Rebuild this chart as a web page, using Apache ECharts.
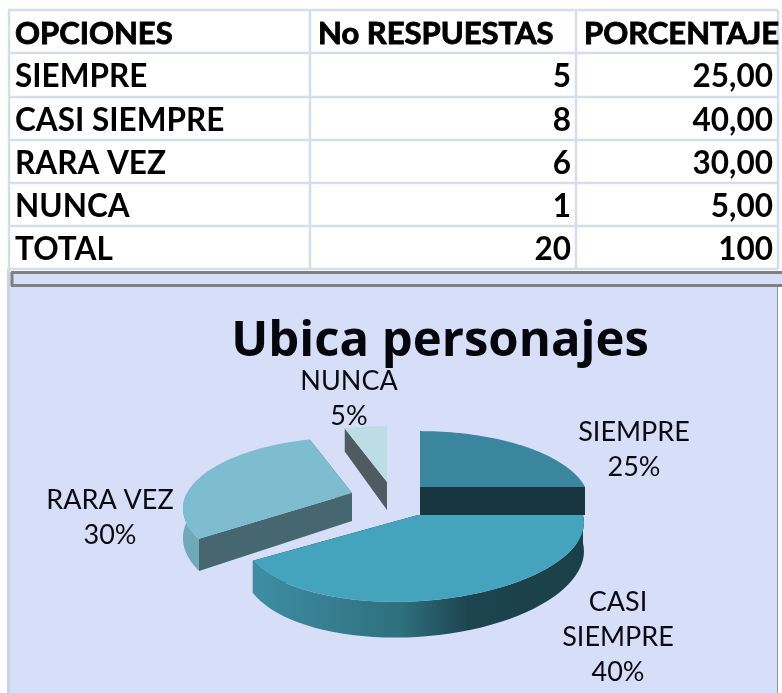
<!DOCTYPE html>
<html>
<head>
<meta charset="utf-8">
<style>
  html, body { margin: 0; padding: 0; background: #fff; }
  #main { width: 782px; height: 693px; }
</style>
<script src="https://cdn.jsdelivr.net/npm/echarts@6/dist/echarts.min.js"></script>
</head>
<body>
<div id="main"></div>
<script>
var tableHeader = ['OPCIONES', 'No RESPUESTAS', 'PORCENTAJE'];
var categories = ['SIEMPRE', 'CASI SIEMPRE', 'RARA VEZ', 'NUNCA'];
var responses = [5, 8, 6, 1];
var percents = ['25,00', '40,00', '30,00', '5,00'];
var totalRow = ['TOTAL', '20', '100'];
var pieLabels = [['SIEMPRE', '25%'], ['CASI', 'SIEMPRE', '40%'], ['RARA VEZ', '30%'], ['NUNCA', '5%']];
var chartTitle = 'Ubica personajes';

// colors per slice
var topColors = ['#3a869e', '#44a3bd', '#7ebccf', '#bcdde4'];
var cutColors = ['#17363f', '#17363f', '#46676f', '#4f5b60'];

// where each exploded slice's tip sits
var tips = [[420, 487], [418, 515], [352, 493], [387, 482]];
var sliceSkew = [0, -18, 0, 0];
var sliceZ = [3, 4, 2, 1];
var radiusX = 165, radiusY = 68, persp = 0.217, depth = 28;

var font = 'Lato, sans-serif';
var rowLines = [10, 53, 97, 140, 183, 226, 269];
var colLines = [9, 310, 576, 778];

function project(i, angle, r, z) {
  var tip = tips[i];
  var u = Math.cos(angle) * r, v = Math.sin(angle) * r;
  var s = 1 / (1 - persp * v);
  return [tip[0] + (radiusX * u + sliceSkew[i] * v) * s, tip[1] + radiusY * v * s + depth * z * s];
}

function arcPoints(i, a0, a1, z) {
  var pts = [], n = 48;
  for (var k = 0; k <= n; k++) {
    pts.push(project(i, a0 + (a1 - a0) * k / n, 1, z));
  }
  return pts;
}

var total = responses.reduce(function (a, b) { return a + b; }, 0);
var startAngles = [];
responses.reduce(function (acc, val) {
  startAngles.push(acc);
  return acc + val / total * Math.PI * 2;
}, -Math.PI / 2);

function renderSlice(params, api) {
  var i = params.dataIndex;
  var a0 = startAngles[i];
  var a1 = a0 + api.value(0) / total * Math.PI * 2;
  var z = sliceZ[i] * 10;
  var children = [];

  // straight cut walls
  [a0, a1].forEach(function (a) {
    children.push({
      type: 'polygon',
      z2: z,
      shape: { points: [project(i, a, 0, 0), project(i, a, 1, 0), project(i, a, 1, 1), project(i, a, 0, 1)] },
      style: { fill: cutColors[i] }
    });
  });

  // outer wall, only the part that faces the viewer
  var w0 = Math.max(a0, 0), w1 = Math.min(a1, Math.PI);
  if (w1 > w0) {
    children.push({
      type: 'polygon',
      z2: z + 1,
      shape: { points: arcPoints(i, w0, w1, 0).concat(arcPoints(i, w0, w1, 1).reverse()) },
      style: {
        fill: {
          type: 'linear', x: 0, y: 0, x2: 1, y2: 0,
          colorStops: i === 1
            ? [{ offset: 0, color: '#3e8ea3' }, { offset: 0.45, color: '#2f6f7e' }, { offset: 0.65, color: '#1c454f' }, { offset: 1, color: '#1a3f48' }]
            : [{ offset: 0, color: '#6fa9ba' }, { offset: 1, color: '#6fa9ba' }]
        }
      }
    });
  }

  children.push({
    type: 'polygon',
    z2: z + 2,
    shape: { points: [project(i, 0, 0, 0)].concat(arcPoints(i, a0, a1, 0)) },
    style: { fill: topColors[i] }
  });
  return { type: 'group', children: children };
}

// table and frame
var graphics = [
  { type: 'rect', z: 0, shape: { x: 7, y: 269, width: 3, height: 424 }, style: { fill: '#c8d4e6' } },
  { type: 'rect', z: 0, shape: { x: 10, y: 272, width: 767, height: 421 }, style: { fill: '#d6dff7' } },
  { type: 'rect', z: 0, shape: { x: 777, y: 272, width: 5, height: 14 }, style: { fill: '#d6dff7' } },
  { type: 'line', z: 1, shape: { x1: 777.5, y1: 286, x2: 777.5, y2: 693 }, style: { stroke: '#8a8f9a', lineWidth: 1 } },
  { type: 'line', z: 1, shape: { x1: 11, y1: 272.5, x2: 782, y2: 272.5 }, style: { stroke: '#808080', lineWidth: 3 } },
  { type: 'line', z: 1, shape: { x1: 11, y1: 285.5, x2: 782, y2: 285.5 }, style: { stroke: '#808080', lineWidth: 3 } },
  { type: 'line', z: 1, shape: { x1: 12, y1: 272, x2: 12, y2: 286 }, style: { stroke: '#808080', lineWidth: 3 } }
];
rowLines.forEach(function (y) {
  graphics.push({ type: 'line', z: 1, shape: { x1: 8, y1: y, x2: 778, y2: y }, style: { stroke: '#d5deea', lineWidth: 2.5 } });
});
colLines.forEach(function (x) {
  graphics.push({ type: 'line', z: 1, shape: { x1: x, y1: 10, x2: x, y2: 269 }, style: { stroke: '#d5deea', lineWidth: 2.5 } });
});

function addCell(text, x, row, align, header) {
  graphics.push({
    type: 'text', z: 5,
    style: {
      x: x, y: (rowLines[row] + rowLines[row + 1]) / 2 + 2,
      text: text, align: align, verticalAlign: 'middle',
      font: 'bold ' + (header ? 31 : 31.5) + 'px ' + font, fill: '#000',
      stroke: '#000', lineWidth: header ? 0.9 : 0
    }
  });
}
addCell(tableHeader[0], 15, 0, 'left', true);
addCell(tableHeader[1], 318, 0, 'left', true);
addCell(tableHeader[2], 584, 0, 'left', true);
categories.forEach(function (c, i) {
  addCell(c, 15, i + 1, 'left');
  addCell(String(responses[i]), 571, i + 1, 'right');
  addCell(percents[i], 773, i + 1, 'right');
});
addCell(totalRow[0], 15, 5, 'left');
addCell(totalRow[1], 571, 5, 'right');
addCell(totalRow[2], 773, 5, 'right');

// pie labels, center x and first line y
var labelPos = [[634, 432], [618, 602], [110, 500], [349, 381]];
pieLabels.forEach(function (lines, i) {
  lines.forEach(function (t, j) {
    graphics.push({
      type: 'text', z: 6,
      style: {
        x: labelPos[i][0], y: labelPos[i][1] + j * 35,
        text: t, align: 'center', verticalAlign: 'middle',
        font: '27px ' + font, fill: '#0a0a12'
      }
    });
  });
});

var myChart = echarts.init(document.getElementById('main'), null, { renderer: 'canvas' });
myChart.setOption({
  animation: false,
  backgroundColor: '#fff',
  title: {
    text: chartTitle,
    left: 440,
    top: 342,
    padding: 0,
    textAlign: 'center',
    textVerticalAlign: 'middle',
    textStyle: { fontFamily: 'Open Sans, sans-serif', fontWeight: 'bold', fontSize: 49, color: '#05050c' }
  },
  graphic: graphics,
  series: [{
    type: 'custom',
    coordinateSystem: 'none',
    silent: true,
    z: 3,
    data: responses.map(function (v, i) { return { name: categories[i], value: [v] }; }),
    renderItem: renderSlice
  }]
});
</script>
</body>
</html>
